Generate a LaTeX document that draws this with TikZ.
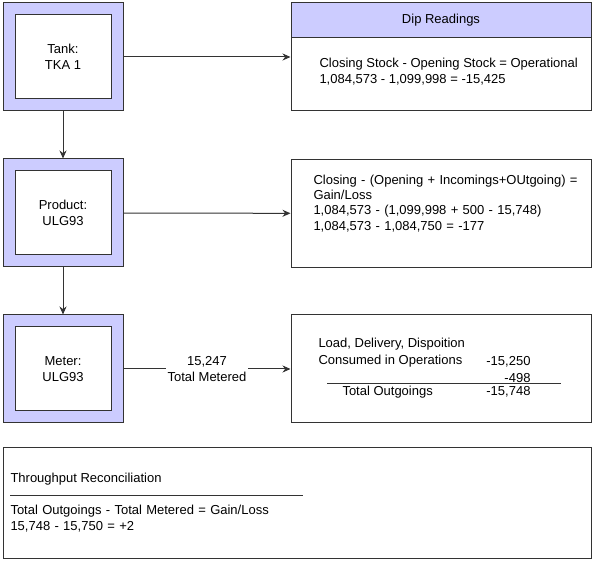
\documentclass[tikz,border=0pt]{standalone}
\usepackage{fontspec}
\setmainfont{Liberation Sans}
\usetikzlibrary{positioning, arrows.meta, calc}
\usepackage{xcolor}
\definecolor{lav}{RGB}{204,204,255}
\definecolor{ink}{RGB}{51,51,51}

\begin{document}
\begin{tikzpicture}[x=1pt, y=-1pt, line width=1pt, draw=ink,
  every node/.style={font=\fontsize{13}{16}\selectfont, text=black},
  framebox/.style={draw=ink, fill=lav, minimum width=120pt, minimum height=108pt, inner sep=0pt},
  labelbox/.style={draw=ink, fill=white, minimum width=96pt, minimum height=84pt, inner sep=0pt, align=center},
  notebox/.style={draw=ink, fill=white, minimum width=300pt, minimum height=108pt, inner sep=0pt},
  notetext/.style={anchor=west, align=left, inner sep=0pt},
  flow/.style={->, >={Stealth[length=8pt, width=7pt]}, draw=ink}]
  \useasboundingbox (0,0) rectangle (595,561);

  % left column
  \node[framebox] (tank) at (63,57) {};
  \node[labelbox] (tanklbl) at (tank) {Tank:\\TKA 1};
  \node[framebox] (product) at (63,213) {};
  \node[labelbox] (productlbl) at (product) {Product:\\ULG93};
  \node[framebox] (meter) at (63,369) {};
  \node[labelbox] (meterlbl) at (meter) {Meter:\\ULG93};

  % right column
  \node[notebox] (dip) at (441,57) {};
  \node[draw=ink, fill=lav, anchor=north west, minimum width=300pt, minimum height=35pt, inner sep=0pt] (diphead) at (dip.north west) {Dip Readings};
  \node[notetext] (diptxt) at (319,71.5) {Closing Stock - Opening Stock = Operational\\1,084,573 - 1,099,998 = -15,425};

  \node[notebox] (gain) at (441,213.5) {};
  \node[notetext, text width=270pt] (gaintxt) at (313,203.5) {\fontsize{13}{15}\selectfont Closing - (Opening + Incomings+OUtgoing) =\\Gain/Loss\\1,084,573 - (1,099,998 + 500 - 15,748)\\1,084,573 - 1,084,750 = -177};

  \node[notebox] (outgo) at (441,369) {};
  \node[notetext] (load) at (318,344) {Load, Delivery, Dispoition};
  \node[notetext] (consumed) at (318,361) {Consumed in Operations};
  \node[anchor=east, inner sep=0pt] (nload) at (531,362) {-15,250};
  \node[anchor=east, inner sep=0pt] (ncons) at (531,378) {-498};
  \coordinate (subL) at (327,384);
  \coordinate (subR) at (561,384);
  \draw[ink] (subL) -- (subR);
  \node[notetext] (totout) at (342,392) {Total Outgoings};
  \node[anchor=east, inner sep=0pt] (ntot) at (531,392) {-15,748};

  % reconciliation
  \node[draw=ink, fill=white, minimum width=588pt, minimum height=110pt, inner sep=0pt] (recon) at (297,503) {};
  \node[notetext] (recontitle) at (10,479) {Throughput Reconciliation};
  \coordinate (ruleL) at (10,496);
  \coordinate (ruleR) at (303,496);
  \draw[ink] (ruleL) -- (ruleR);
  \node[notetext, text width=300pt] (recontxt) at (10,519) {\fontsize{13}{18}\selectfont Total Outgoings - Total Metered = Gain/Loss\\15,748 - 15,750 = +2};

  % connectors
  \draw[flow] (tank) -- (dip);
  \draw[flow] (tank) -- (product);
  \draw[flow] (product) -- (gain);
  \draw[flow] (product) -- (meter);
  \draw[flow] (meter) -- node[fill=white, align=center, inner sep=2pt] (metered) {15,247\\Total Metered} (outgo);
\end{tikzpicture}
\end{document}
